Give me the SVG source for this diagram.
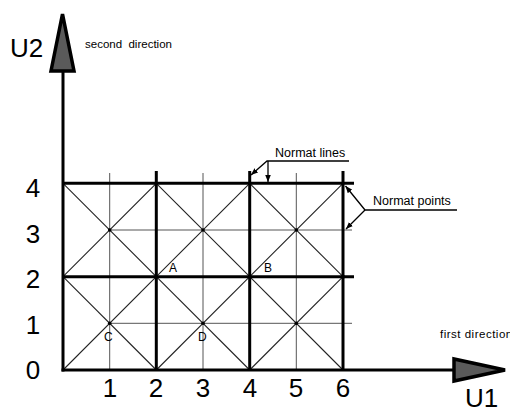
<svg xmlns="http://www.w3.org/2000/svg" width="510" height="407" viewBox="0 0 510 407">
<defs>
<style>
.thick{stroke:#000;stroke-width:3;fill:none}
.thin{stroke:#555;stroke-width:1;fill:none}
.diag{stroke:#222;stroke-width:1.1;fill:none}
.lead{stroke:#000;stroke-width:1.3;fill:none}
.arrow{fill:#5a5a5a;stroke:#000;stroke-width:3.5;stroke-linejoin:miter}
.big{font-family:"Liberation Sans",Arial,sans-serif;font-size:26px;fill:#000}
.small{font-family:"Liberation Sans",Arial,sans-serif;font-size:11.5px;fill:#000}
.lbl{font-family:"Liberation Sans",Arial,sans-serif;font-size:12.5px;fill:#000}
.pt{font-family:"Liberation Sans",Arial,sans-serif;font-size:12px;fill:#000}
</style>
<marker id="ah" viewBox="0 0 10 10" refX="10" refY="5" markerWidth="7" markerHeight="7" orient="auto" markerUnits="userSpaceOnUse">
<path d="M0,1 L10,5 L0,9 z" fill="#000"/>
</marker>
</defs>
<g id="grid">
<g id="thin-lines">
<line class="thin" x1="109.7" y1="370" x2="109.7" y2="173"/>
<line class="thin" x1="203" y1="370" x2="203" y2="173"/>
<line class="thin" x1="296.3" y1="370" x2="296.3" y2="173"/>
<line class="thin" x1="109.7" y1="323.3" x2="352" y2="323.3"/>
<line class="thin" x1="109.7" y1="230" x2="352" y2="230"/>
</g>
<g id="diagonals">
<line class="diag" x1="63" y1="370" x2="156.3" y2="276.7"/>
<line class="diag" x1="63" y1="276.7" x2="156.3" y2="370"/>
<line class="diag" x1="156.3" y1="370" x2="249.7" y2="276.7"/>
<line class="diag" x1="156.3" y1="276.7" x2="249.7" y2="370"/>
<line class="diag" x1="249.7" y1="370" x2="343" y2="276.7"/>
<line class="diag" x1="249.7" y1="276.7" x2="343" y2="370"/>
<line class="diag" x1="63" y1="276.7" x2="156.3" y2="183.3"/>
<line class="diag" x1="63" y1="183.3" x2="156.3" y2="276.7"/>
<line class="diag" x1="156.3" y1="276.7" x2="249.7" y2="183.3"/>
<line class="diag" x1="156.3" y1="183.3" x2="249.7" y2="276.7"/>
<line class="diag" x1="249.7" y1="276.7" x2="343" y2="183.3"/>
<line class="diag" x1="249.7" y1="183.3" x2="343" y2="276.7"/>
</g>
<g id="thick-lines">
<line class="thick" x1="63" y1="276.7" x2="354" y2="276.7"/>
<line class="thick" x1="63" y1="183.3" x2="354" y2="183.3"/>
<line class="thick" x1="156.3" y1="370" x2="156.3" y2="171"/>
<line class="thick" x1="249.7" y1="370" x2="249.7" y2="171"/>
<line class="thick" x1="343" y1="370" x2="343" y2="171"/>
</g>
<g id="nodes" fill="#000">
<circle cx="109.7" cy="323.3" r="1.8"/>
<circle cx="109.7" cy="230" r="1.8"/>
<circle cx="203" cy="323.3" r="1.8"/>
<circle cx="203" cy="230" r="1.8"/>
<circle cx="296.3" cy="323.3" r="1.8"/>
<circle cx="296.3" cy="230" r="1.8"/>
<circle cx="156.3" cy="276.7" r="2"/>
<circle cx="249.7" cy="276.7" r="2"/>
<circle cx="343" cy="276.7" r="2"/>
</g>
</g>
<g id="axes">
<line class="thick" x1="63" y1="371.5" x2="63" y2="72"/>
<line class="thick" x1="61.5" y1="370" x2="453" y2="370"/>
<polygon class="arrow" points="62.5,14 51,71 74,71"/>
<polygon class="arrow" points="454,359 454,381 505,370"/>
</g>
<g id="connectors">
<polyline class="lead" points="349,161 267,161 251,175" marker-end="url(#ah)"/>
<line class="lead" x1="268" y1="161" x2="268" y2="182" marker-end="url(#ah)"/>
<polyline class="lead" points="457,210 365,210 345.5,186" marker-end="url(#ah)"/>
<line class="lead" x1="365" y1="210" x2="346" y2="229" marker-end="url(#ah)"/>
</g>
<g id="labels">
<text class="big" x="10" y="57">U2</text>
<text class="small" x="85" y="48" xml:space="preserve">second  direction</text>
<text class="small" x="440" y="338" letter-spacing="0.5">first direction</text>
<text class="big" x="465" y="407">U1</text>
<text class="lbl" x="275" y="156.5">Normat lines</text>
<text class="lbl" x="373" y="205">Normat points</text>
<g text-anchor="middle">
<text class="big" x="33" y="197">4</text>
<text class="big" x="33" y="243">3</text>
<text class="big" x="33" y="288">2</text>
<text class="big" x="33" y="334">1</text>
<text class="big" x="33" y="379">0</text>
<text class="big" x="110" y="397">1</text>
<text class="big" x="156" y="397">2</text>
<text class="big" x="203" y="397">3</text>
<text class="big" x="250" y="397">4</text>
<text class="big" x="296" y="397">5</text>
<text class="big" x="343" y="397">6</text>
</g>
<text class="pt" x="169" y="272">A</text>
<text class="pt" x="264" y="272">B</text>
<text class="pt" x="104" y="341">C</text>
<text class="pt" x="198" y="341">D</text>
</g>
</svg>
